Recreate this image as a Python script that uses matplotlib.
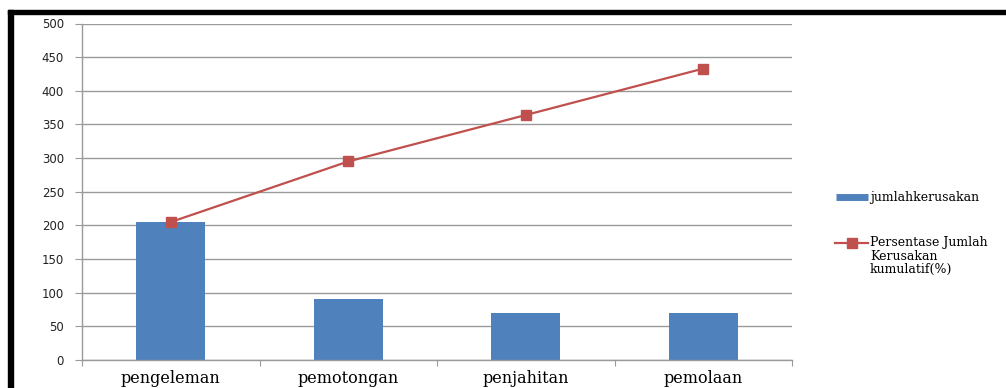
import matplotlib
matplotlib.use("Agg")
import matplotlib.pyplot as plt
from matplotlib.lines import Line2D
from matplotlib.patches import Rectangle

categories = ["pengeleman", "pemotongan", "penjahitan", "pemolaan"]
jumlah_kerusakan = [205, 90, 70, 70]
persentase_kumulatif = [205, 295, 364, 433]
y_ticks = [0, 50, 100, 150, 200, 250, 300, 350, 400, 450, 500]

W, H = 1006, 388
fig = plt.figure(figsize=(W / 100, H / 100), dpi=100)
fig.patch.set_facecolor("white")

def fx(px):
    return px / W

def fy(py):
    return 1 - py / H

ax = fig.add_axes([fx(82), fy(360), fx(792) - fx(82), fy(23.5) - fy(360)])
x = list(range(len(categories)))
ax.bar(x, jumlah_kerusakan, width=0.39, color="#4F81BD", zorder=2)
ax.plot(x, persentase_kumulatif, color="#C0504D", lw=1.6, marker="s",
        markersize=6.5, markeredgecolor="#C0504D", zorder=3)

ax.set_xlim(-0.5, len(categories) - 0.5)
ax.set_ylim(0, 500)
ax.set_yticks(y_ticks)
ax.set_yticklabels([str(v) for v in y_ticks], fontsize=8.5, family="DejaVu Sans", color="#222222")
ax.yaxis.grid(True, color="#9a9a9a", lw=1.0, zorder=0)
ax.set_axisbelow(True)
ax.tick_params(axis="y", length=5, color="#9a9a9a", pad=8)

ax.set_xticks([i + 0.5 for i in range(-1, len(categories))])
ax.set_xticklabels([])
ax.tick_params(axis="x", length=4, color="#9a9a9a", direction="out")
ax.set_xticks(x, minor=True)
ax.set_xticklabels(categories, minor=True, fontsize=11.5, family="DejaVu Serif")
ax.tick_params(axis="x", which="minor", length=0, pad=7)

for s in ["top", "right"]:
    ax.spines[s].set_visible(False)
for s in ["left", "bottom"]:
    ax.spines[s].set_color("#9a9a9a")
    ax.spines[s].set_linewidth(1.0)

# legend (manual)
fig.add_artist(Line2D([fx(836), fx(868)], [fy(197), fy(197)], color="#4F81BD", lw=5,
                      solid_capstyle="butt"))
fig.text(fx(870), fy(197), "jumlahkerusakan", fontsize=9, family="DejaVu Serif",
         va="center", ha="left")
fig.add_artist(Line2D([fx(835), fx(868)], [fy(243), fy(243)], color="#C0504D", lw=1.6))
fig.add_artist(Line2D([fx(851.5)], [fy(243)], color="#C0504D", marker="s", markersize=6.5,
                      markeredgecolor="#C0504D", lw=0))
fig.text(fx(870), fy(236), "Persentase Jumlah\nKerusakan\nkumulatif(%)", fontsize=9,
         family="DejaVu Serif", va="top", ha="left", linespacing=1.05)

# black border (top and left)
fig.add_artist(Rectangle((fx(8), fy(14)), 1 - fx(8), fy(10) - fy(14), color="black",
                         transform=fig.transFigure, zorder=10))
fig.add_artist(Rectangle((fx(8), 0), fx(13) - fx(8), fy(10), color="black",
                         transform=fig.transFigure, zorder=10))

fig.savefig("out.png", dpi=100)
